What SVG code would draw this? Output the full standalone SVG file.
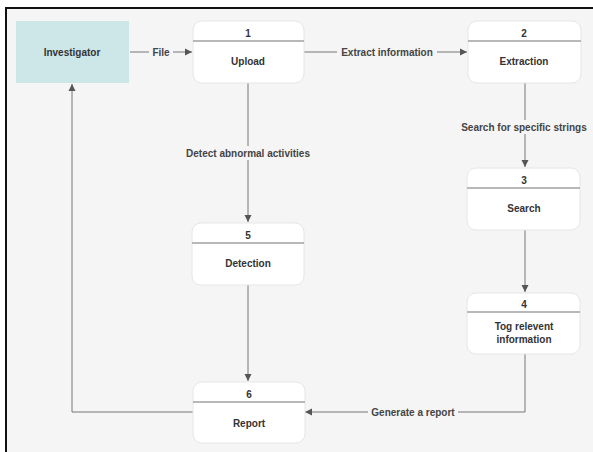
<svg xmlns="http://www.w3.org/2000/svg" width="593" height="452" viewBox="0 0 593 452">
<defs>
<style>
.bg{fill:#f5f5f5}
.frame{stroke:#111;stroke-width:2;fill:none}
.node{fill:#ffffff;stroke:#e6e6e6;stroke-width:1}
.div{stroke:#a0a0a0;stroke-width:1.5}
.t{font-family:"Liberation Sans",Arial,sans-serif;font-size:10px;font-weight:bold;fill:#333;text-anchor:middle;dominant-baseline:central}
.lbl{font-family:"Liberation Sans",Arial,sans-serif;font-size:10px;font-weight:bold;fill:#444;text-anchor:middle;dominant-baseline:central}
.edge{stroke:#777;stroke-width:1;fill:none;marker-end:url(#arr)}
.lblbg{fill:#f5f5f5}
</style>
<marker id="arr" markerWidth="8" markerHeight="8" refX="7" refY="4" orient="auto" markerUnits="userSpaceOnUse">
<path d="M0,0.5 L7,4 L0,7.5 Z" fill="#555"/>
</marker>
</defs>
<rect x="0" y="0" width="593" height="452" fill="#ffffff"/>
<rect class="bg" x="6" y="8" width="587" height="444"/>
<path class="frame" d="M6,452 V8 H593"/>

<g id="connectors">
<path class="edge" d="M130,52 H192"/>
<rect class="lblbg" x="149" y="45" width="24" height="14"/>
<text class="lbl" x="161" y="52">File</text>

<path class="edge" d="M304,52 H467"/>
<rect class="lblbg" x="337" y="45" width="100" height="14"/>
<text class="lbl" x="387" y="52">Extract information</text>

<path class="edge" d="M525,83 V167"/>
<rect class="lblbg" x="459" y="120" width="130" height="14"/>
<text class="lbl" x="524" y="127">Search for specific strings</text>

<path class="edge" d="M525,230 V292"/>

<path class="edge" d="M248,83 V222"/>
<rect class="lblbg" x="182" y="146" width="132" height="14"/>
<text class="lbl" x="248" y="153">Detect abnormal activities</text>

<path class="edge" d="M248,285 V381"/>

<path class="edge" d="M525,354 V412 H305"/>
<rect class="lblbg" x="368" y="405" width="90" height="14"/>
<text class="lbl" x="413" y="412">Generate a report</text>

<path class="edge" d="M193,412 H72 V84"/>
</g>

<g id="investigator">
<rect x="16" y="21" width="113" height="62" fill="#cde6e8"/>
<text class="t" x="72" y="52">Investigator</text>
</g>

<g id="upload">
<rect class="node" x="193" y="21" width="111" height="62" rx="9"/>
<line class="div" x1="193" y1="41" x2="304" y2="41"/>
<text class="t" x="248" y="33">1</text>
<text class="t" x="248" y="61">Upload</text>
</g>

<g id="extraction">
<rect class="node" x="468" y="21" width="113" height="62" rx="9"/>
<line class="div" x1="468" y1="41" x2="581" y2="41"/>
<text class="t" x="524" y="33">2</text>
<text class="t" x="524" y="61">Extraction</text>
</g>

<g id="search">
<rect class="node" x="467" y="168" width="113" height="62" rx="9"/>
<line class="div" x1="467" y1="188" x2="580" y2="188"/>
<text class="t" x="524" y="180">3</text>
<text class="t" x="524" y="208">Search</text>
</g>

<g id="tag">
<rect class="node" x="467" y="293" width="113" height="61" rx="9"/>
<line class="div" x1="467" y1="312" x2="580" y2="312"/>
<text class="t" x="524" y="304">4</text>
<text class="t" x="524" y="326">Tog relevent</text>
<text class="t" x="524" y="339">information</text>
</g>

<g id="detection">
<rect class="node" x="192" y="223" width="112" height="62" rx="9"/>
<line class="div" x1="192" y1="243" x2="304" y2="243"/>
<text class="t" x="248" y="235">5</text>
<text class="t" x="248" y="263">Detection</text>
</g>

<g id="report">
<rect class="node" x="193" y="382" width="112" height="61" rx="9"/>
<line class="div" x1="193" y1="402" x2="305" y2="402"/>
<text class="t" x="249" y="394">6</text>
<text class="t" x="249" y="423">Report</text>
</g>
</svg>
